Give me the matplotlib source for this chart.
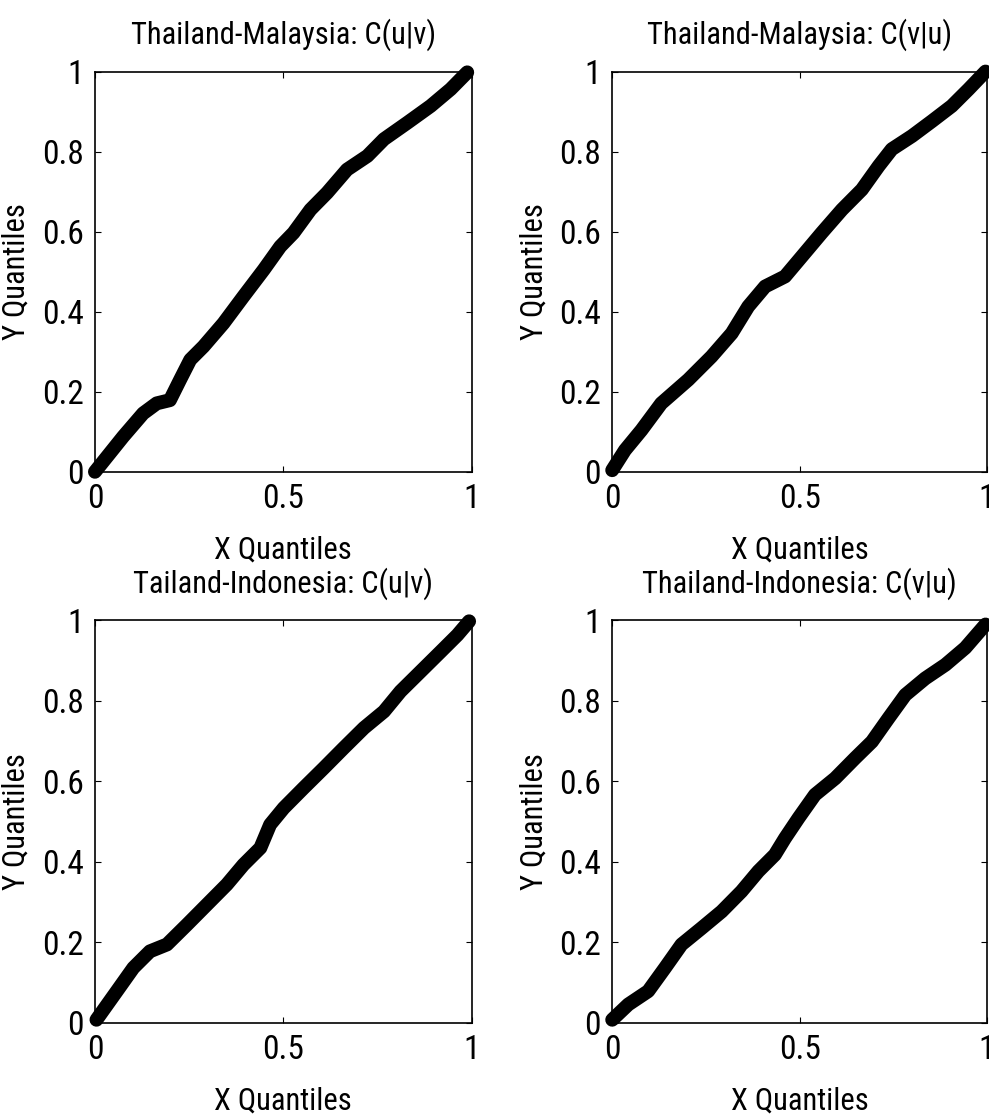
import matplotlib
matplotlib.use("Agg")
import matplotlib.pyplot as plt

plt.rcParams['font.family'] = ['Roboto Condensed', 'DejaVu Sans']

titles = ["Thailand-Malaysia: C(u|v)", "Thailand-Malaysia: C(v|u)",
          "Tailand-Indonesia: C(u|v)", "Thailand-Indonesia: C(v|u)"]

# points (x quantile, y quantile)
tm_uv_x = [0.0, 0.075, 0.128, 0.164, 0.199, 0.226, 0.253, 0.288, 0.341, 0.394, 0.448,
           0.492, 0.527, 0.572, 0.616, 0.669, 0.723, 0.767, 0.829, 0.891, 0.944, 0.988]
tm_uv_y = [0.0, 0.088, 0.146, 0.171, 0.179, 0.230, 0.280, 0.313, 0.371, 0.438, 0.505,
           0.563, 0.597, 0.655, 0.697, 0.755, 0.789, 0.831, 0.872, 0.914, 0.956, 0.998]

tm_vu_x = [0.0, 0.034, 0.078, 0.131, 0.203, 0.265, 0.319, 0.363, 0.408, 0.461, 0.506,
           0.559, 0.613, 0.666, 0.711, 0.746, 0.800, 0.853, 0.906, 0.951, 0.996]
tm_vu_y = [0.004, 0.054, 0.104, 0.171, 0.230, 0.288, 0.346, 0.413, 0.463, 0.488, 0.538,
           0.597, 0.655, 0.705, 0.764, 0.806, 0.839, 0.876, 0.914, 0.956, 1.0]

ti_uv_x = [0.004, 0.058, 0.102, 0.146, 0.191, 0.244, 0.297, 0.350, 0.394, 0.439, 0.465,
           0.501, 0.554, 0.607, 0.660, 0.714, 0.767, 0.811, 0.864, 0.918, 0.962, 0.993]
ti_uv_y = [0.008, 0.079, 0.137, 0.178, 0.195, 0.244, 0.294, 0.344, 0.393, 0.435, 0.493,
           0.534, 0.584, 0.633, 0.683, 0.733, 0.774, 0.824, 0.873, 0.923, 0.964, 0.998]

ti_vu_x = [0.0, 0.043, 0.096, 0.141, 0.185, 0.239, 0.292, 0.345, 0.390, 0.434, 0.461,
           0.497, 0.541, 0.595, 0.648, 0.693, 0.737, 0.782, 0.835, 0.889, 0.942, 0.996]
ti_vu_y = [0.008, 0.046, 0.079, 0.137, 0.195, 0.236, 0.277, 0.327, 0.377, 0.418, 0.459,
           0.509, 0.567, 0.608, 0.658, 0.699, 0.757, 0.815, 0.856, 0.890, 0.932, 0.990]

series = [(tm_uv_x, tm_uv_y), (tm_vu_x, tm_vu_y), (ti_uv_x, ti_uv_y), (ti_vu_x, ti_vu_y)]

xticks = [0, 0.5, 1]
xticklabels = ["0", "0.5", "1"]
yticks = [0, 0.2, 0.4, 0.6, 0.8, 1]
yticklabels = ["0", "0.2", "0.4", "0.6", "0.8", "1"]

fig = plt.figure(figsize=(9.89, 11.18), dpi=100)
boxes = [[0.096, 0.578, 0.381, 0.358], [0.619, 0.578, 0.379, 0.358],
         [0.096, 0.085, 0.381, 0.360], [0.619, 0.085, 0.379, 0.360]]

for box, title, (xs, ys) in zip(boxes, titles, series):
    ax = fig.add_axes(box)
    ax.plot(xs, ys, color='k', lw=10, solid_capstyle='round', solid_joinstyle='round',
            clip_on=False)
    ax.set_xlim(0, 1)
    ax.set_ylim(0, 1)
    ax.set_xticks(xticks)
    ax.set_xticklabels(xticklabels)
    ax.set_yticks(yticks)
    ax.set_yticklabels(yticklabels)
    ax.tick_params(direction='in', length=4, width=0.8, top=True, right=True,
                   labelsize=24, pad=8)
    for sp in ax.spines.values():
        sp.set_linewidth(1.2)
    ax.set_title(title, fontsize=22, pad=20)
    ax.set_xlabel("X Quantiles", fontsize=22, labelpad=15)
    ax.set_ylabel("Y Quantiles", fontsize=22, labelpad=8)

fig.savefig("out.png", dpi=100)
